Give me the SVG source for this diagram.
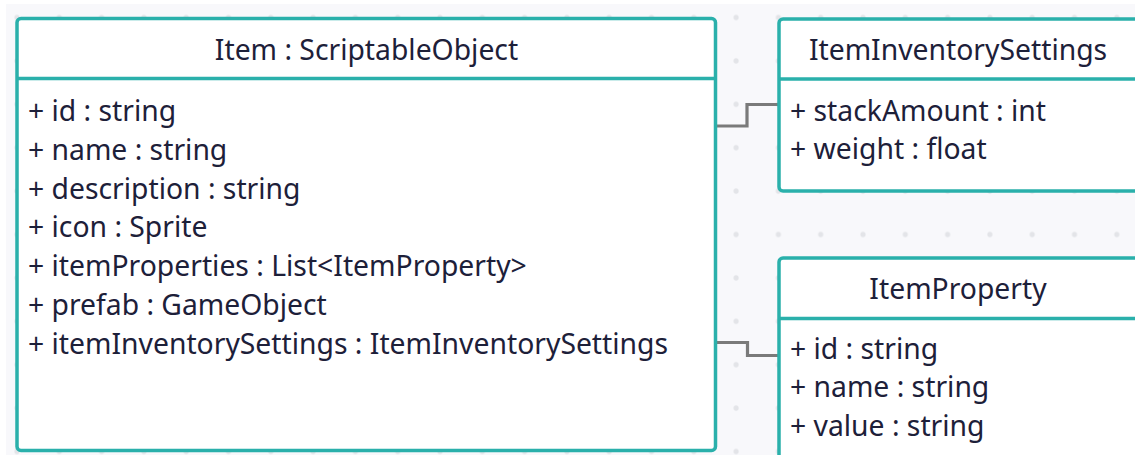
<svg xmlns="http://www.w3.org/2000/svg" width="1135" height="455" viewBox="0 0 1135 455">
  <defs>
    <pattern id="dots" x="17" y="17.5" width="42.3" height="43.4" patternUnits="userSpaceOnUse">
      <circle cx="0" cy="0" r="2.6" fill="#e3e4e8"/>
      <circle cx="42.3" cy="0" r="2.6" fill="#e3e4e8"/>
      <circle cx="0" cy="43.4" r="2.6" fill="#e3e4e8"/>
      <circle cx="42.3" cy="43.4" r="2.6" fill="#e3e4e8"/>
    </pattern>
    <style>
      .box { fill: #ffffff; stroke: #2ab0ab; stroke-width: 3.5; }
      .div { stroke: #2ab0ab; stroke-width: 3.5; }
      .title { font-family: "Noto Sans", "Open Sans", sans-serif; font-size: 28.3px; fill: #1d2039; text-anchor: middle; }
      .attr { font-family: "Noto Sans", "Open Sans", sans-serif; font-size: 28.3px; fill: #1d2039; }
      .conn { fill: none; stroke: #7a7a7a; stroke-width: 3.2; }
    </style>
  </defs>
  <rect x="0" y="0" width="1135" height="455" fill="#ffffff"/>
  <rect x="6" y="4" width="1129" height="451" fill="#f8f8fb"/>
  <rect x="6" y="4" width="1129" height="451" fill="url(#dots)"/>

  <g id="connectors">
    <path class="conn" d="M715,126 H747 V104.5 H779"/>
    <path class="conn" d="M715,342.5 H747.5 V355.5 H779"/>
  </g>

  <g id="item">
    <rect class="box" x="17" y="18.5" width="698.5" height="432" rx="4"/>
    <line class="div" x1="17" y1="78.5" x2="715.5" y2="78.5"/>
    <text class="title" x="366.5" y="59.5">Item : ScriptableObject</text>
    <text class="attr" x="28" y="121">+ id : string</text>
    <text class="attr" x="28" y="159.8">+ name : string</text>
    <text class="attr" x="28" y="198.6">+ description : string</text>
    <text class="attr" x="28" y="237.4">+ icon : Sprite</text>
    <text class="attr" x="28" y="276.2">+ itemProperties : List&lt;ItemProperty&gt;</text>
    <text class="attr" x="28" y="315">+ prefab : GameObject</text>
    <text class="attr" x="28" y="353.8">+ itemInventorySettings : ItemInventorySettings</text>
  </g>

  <g id="itemInventorySettings">
    <rect class="box" x="779" y="19" width="400" height="172" rx="4"/>
    <line class="div" x1="779" y1="79" x2="1140" y2="79"/>
    <text class="title" x="958" y="59.5">ItemInventorySettings</text>
    <text class="attr" x="790" y="120.5">+ stackAmount : int</text>
    <text class="attr" x="790" y="159.3">+ weight : float</text>
  </g>

  <g id="itemProperty">
    <rect class="box" x="779" y="258" width="400" height="240" rx="4"/>
    <line class="div" x1="779" y1="318.5" x2="1140" y2="318.5"/>
    <text class="title" x="958" y="298.5">ItemProperty</text>
    <text class="attr" x="790" y="358.5">+ id : string</text>
    <text class="attr" x="790" y="397.3">+ name : string</text>
    <text class="attr" x="790" y="436">+ value : string</text>
  </g>
</svg>
